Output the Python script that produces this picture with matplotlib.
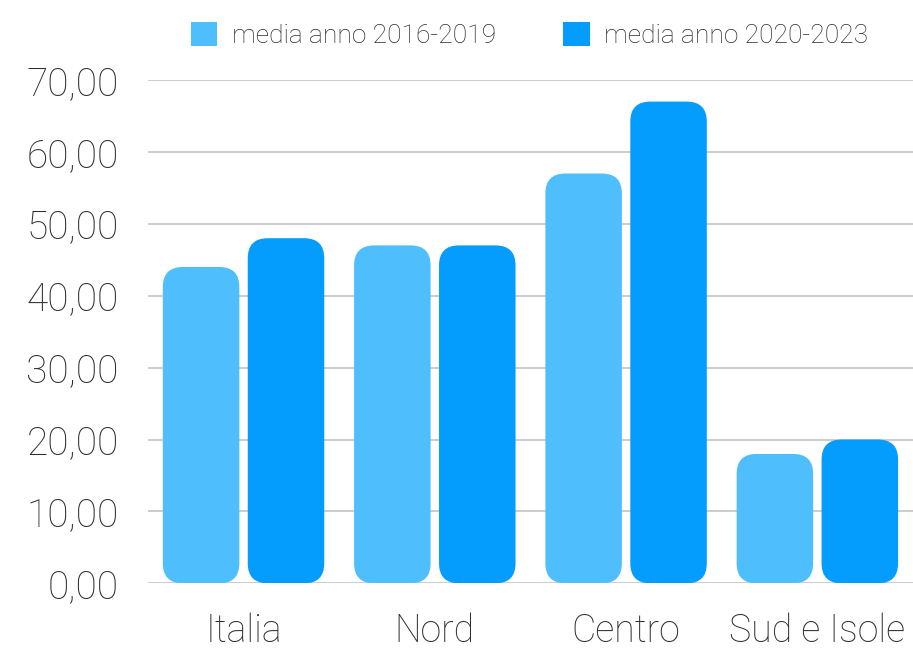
import numpy as np
import matplotlib
matplotlib.use("Agg")
import matplotlib.pyplot as plt
from matplotlib.patches import FancyBboxPatch, Patch
from matplotlib.ticker import FuncFormatter

# dati per area geografica
aree = ["Italia", "Nord", "Centro", "Sud e Isole"]
media_2016_2019 = [44, 47, 57, 18]
media_2020_2023 = [48, 47, 67, 20]
serie_labels = ["media anno 2016-2019", "media anno 2020-2023"]

col_chiaro = "#4fbefc"
col_scuro = "#049cfd"
col_testo = "#2c2c2c"

plt.rcParams["font.family"] = ["Roboto", "DejaVu Sans"]

fig = plt.figure(figsize=(9.13, 6.48), dpi=100)
ax = fig.add_axes([0.162, 0.0998, 0.838, 0.7767])

x = np.arange(len(aree))
w = 0.40
off = 0.222

b1 = ax.bar(x - off, media_2016_2019, w, color=col_chiaro, label=serie_labels[0], zorder=3)
b2 = ax.bar(x + off, media_2020_2023, w, color=col_scuro, label=serie_labels[1], zorder=3)

# sostituisce i rettangoli con barre arrotondate
for bars, c in [(b1, col_chiaro), (b2, col_scuro)]:
    for r in bars:
        bx, by = r.get_xy()
        fb = FancyBboxPatch((bx, by), r.get_width(), r.get_height(),
                            boxstyle="round,pad=0,rounding_size=0.105",
                            mutation_aspect=26.5, facecolor=c, edgecolor="none",
                            zorder=3)
        ax.add_patch(fb)
        r.set_visible(False)

ax.set_xlim(-0.5, 3.5)
ax.set_ylim(0, 70)
ax.set_yticks(np.arange(0, 71, 10))
ax.yaxis.set_major_formatter(FuncFormatter(lambda v, p: f"{v:.2f}".replace(".", ",")))
ax.set_xticks(x)
ax.set_xticklabels(aree)

ax.grid(axis="y", color="#c4c4c4", linewidth=1.2, zorder=0)
for s in ax.spines.values():
    s.set_visible(False)
ax.tick_params(axis="y", length=0, pad=21, labelsize=28, labelcolor=col_testo)
ax.tick_params(axis="x", length=0, pad=21, labelsize=27, labelcolor=col_testo)
for t in ax.get_xticklabels() + ax.get_yticklabels():
    t.set_fontweight("light")

# legenda con quadratini
handles = [Patch(facecolor=col_chiaro), Patch(facecolor=col_scuro)]
leg = fig.legend(handles, serie_labels, loc="center", bbox_to_anchor=(529.5 / 913, 1 - 35 / 648),
                 ncol=2, frameon=False, fontsize=19, handlelength=1.0, handleheight=1.0,
                 handletextpad=0.56, columnspacing=2.55, borderpad=0)
for t in leg.get_texts():
    t.set_color(col_testo)
    t.set_fontweight("light")

fig.savefig("out.png", dpi=100)
